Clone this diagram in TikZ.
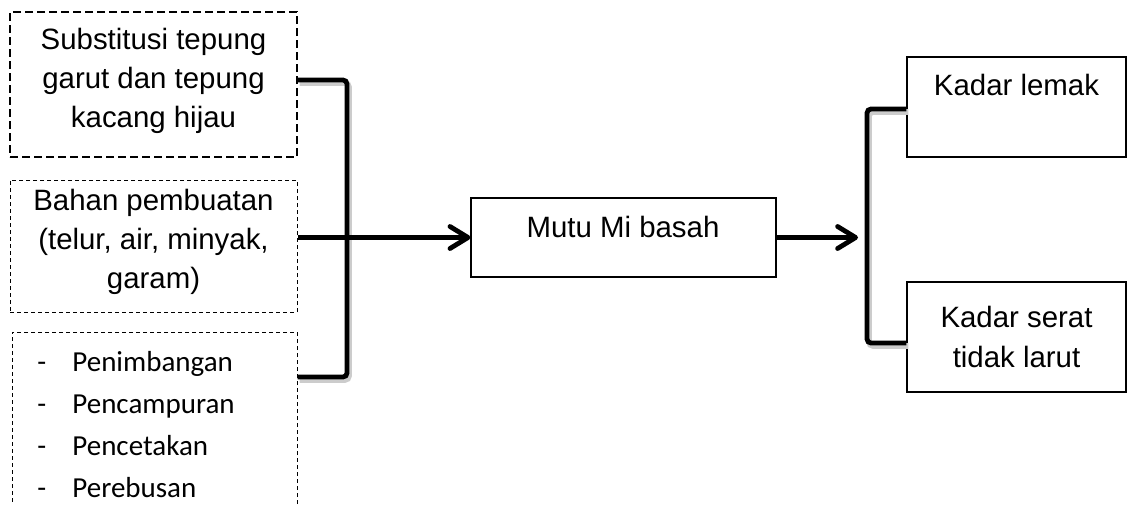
\documentclass[tikz,border=0pt]{standalone}
\usepackage{fontspec}
\setmainfont{Liberation Sans}
\newfontfamily\calibri{Carlito}
\usetikzlibrary{fit,arrows.meta}
\begin{document}
\begin{tikzpicture}[x=0.5pt,y=-0.5pt,
  solidbox/.style={draw, line width=0.6pt, inner sep=0pt},
  dashbox/.style={draw, line width=0.6pt, inner sep=0pt, dash pattern=on 4pt off 2pt},
  finebox/.style={draw, line width=0.5pt, inner sep=0pt, dash pattern=on 2pt off 1.5pt},
  txt/.style={font=\fontsize{14.7}{19.6}\selectfont, align=center, inner sep=0pt},
  item/.style={font=\calibri\fontsize{14.5}{17}\selectfont, inner sep=0pt, anchor=base west},
  conn/.style={line width=2.4pt, rounded corners=2pt},
  shadow/.style={line width=2.8pt, draw=black!20, rounded corners=2pt, transform canvas={xshift=1pt,yshift=-1.5pt}},
  arr/.style={line width=2.4pt, -{Straight Barb[length=9pt,width=11pt,line width=2.4pt,line cap=round,line join=round]}}
]
\useasboundingbox (0,0) rectangle (1127,504);
% left boxes
\node[dashbox, fit={(10,12)(297,157)}] (b1) {};
\node[txt] (t1) at (153.5,81) {Substitusi tepung\\garut dan tepung\\kacang hijau};
\node[finebox, fit={(10,180)(297,312)}] (b2) {};
\node[txt] (t2) at (153.5,242) {Bahan pembuatan\\(telur, air, minyak,\\garam)};
\node[finebox, fit={(12,332)(297,520)}] (b3) {};
\node[item] (l1) at (37,371) {\makebox[17.5pt][l]{-}Penimbangan};
\node[item] (l2) at (37,413) {\makebox[17.5pt][l]{-}Pencampuran};
\node[item] (l3) at (37,455) {\makebox[17.5pt][l]{-}Pencetakan};
\node[item] (l4) at (37,497) {\makebox[17.5pt][l]{-}Perebusan};
% middle box
\node[solidbox, fit={(471,198)(776,277)}] (mutu) {};
\node[txt] (tm) at (623,227) {Mutu Mi basah};
% right boxes
\node[solidbox, fit={(907,57)(1126,157)}] (kl) {};
\node[txt] (tkl) at (1016.5,85) {Kadar lemak};
\node[solidbox, fit={(907,282)(1126,392)}] (ks) {};
\node[txt] (tks) at (1016.5,337) {Kadar serat\\tidak larut};
% left bracket
\coordinate (lt) at (347,80);
\coordinate (lb) at (347,377);
\draw[shadow] (b1.east |- lt) -- (lt) -- (lb) -- (b3.east |- lb);
\draw[conn] (b1.east |- lt) -- (lt) -- (lb) -- (b3.east |- lb);
\draw[arr] (b2.east |- mutu.west) -- (mutu.west);
% right side
\coordinate (rtip) at (858,0);
\coordinate (rx) at (867,0);
\draw[arr] (mutu.east) -- (mutu.east -| rtip);
\draw[shadow] ([yshift=-1pt]kl.west) -- ([yshift=-1pt]kl.west -| rx) -- ([yshift=-3pt]ks.west -| rx) -- ([yshift=-3pt]ks.west);
\draw[conn] ([yshift=-1pt]kl.west) -- ([yshift=-1pt]kl.west -| rx) -- ([yshift=-3pt]ks.west -| rx) -- ([yshift=-3pt]ks.west);
\end{tikzpicture}
\end{document}
